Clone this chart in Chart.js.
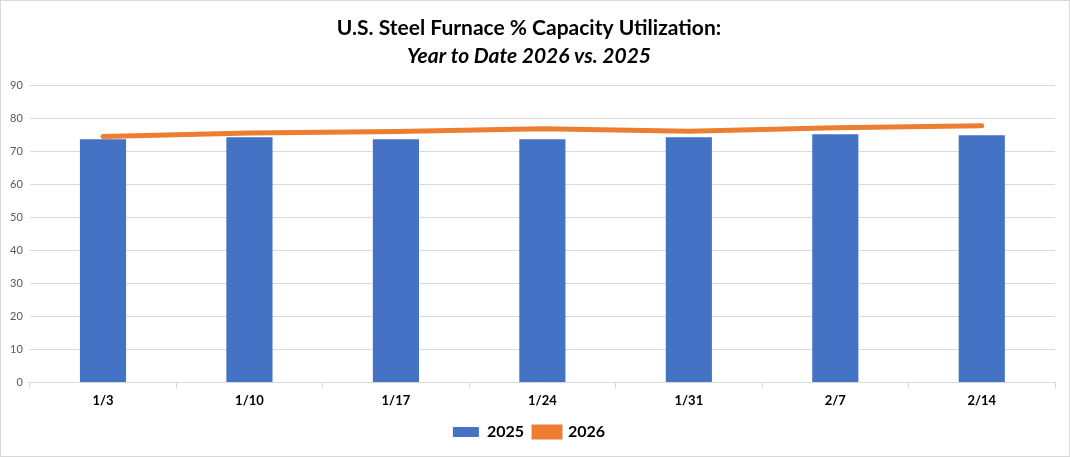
<!DOCTYPE html>
<html>
<head>
<meta charset="utf-8">
<script src="https://cdn.jsdelivr.net/npm/chart.js@4"></script>
<style>
  html, body { margin: 0; padding: 0; background: #fff; }
  #wrap { width: 1068px; height: 455px; border: 1px solid #d9d9d9; position: relative; }
</style>
</head>
<body>
<div id="wrap"><canvas id="grafica"></canvas></div>
<script>
  // Datos
  const semanas = ['1/3', '1/10', '1/17', '1/24', '1/31', '2/7', '2/14'];
  const valores2025 = [73.7, 74.3, 73.7, 73.7, 74.3, 75.2, 74.9];
  const valores2026 = [74.5, 75.6, 76.0, 76.9, 76.1, 77.2, 77.8];
  const ticksY = [0, 10, 20, 30, 40, 50, 60, 70, 80, 90];

  const ctx = document.getElementById('grafica').getContext('2d');

  const chart = new Chart(ctx, {
    type: 'bar',
    data: {
      labels: semanas,
      datasets: [
        {
          type: 'line',
          label: '2026',
          data: valores2026,
          borderColor: '#ED7D31',
          backgroundColor: '#ED7D31',
          borderWidth: 5,
          borderCapStyle: 'round',
          pointRadius: 0,
          tension: 0,
          order: 0
        },
        {
          label: '2025',
          data: valores2025,
          backgroundColor: '#4472C4',
          barPercentage: 0.315,
          categoryPercentage: 1,
          order: 1
        }
      ]
    },
    options: {
      responsive: true,
      maintainAspectRatio: false,
      animation: false,
      layout: { padding: { left: 2, right: 14, top: 9, bottom: 6 } },
      plugins: {
        title: {
          display: true,
          text: 'U.S. Steel Furnace % Capacity Utilization:',
          color: '#000',
          font: { family: 'Lato', size: 21, weight: 'bold' },
          padding: { top: 6, bottom: 2 }
        },
        subtitle: {
          display: true,
          text: 'Year to Date 2026 vs. 2025',
          color: '#000',
          font: { family: 'Lato', size: 21, weight: 'bold', style: 'italic' },
          padding: { bottom: 17 }
        },
        legend: {
          position: 'bottom',
          reverse: true,
          labels: {
            color: '#000',
            boxWidth: 26,
            boxHeight: 10,
            font: { family: 'Lato', size: 16, weight: 'bold' }
          }
        },
        tooltip: { enabled: false }
      },
      scales: {
        x: {
          grid: { offset: true, drawOnChartArea: false, color: '#d9d9d9', tickLength: 6 },
          border: { color: '#d9d9d9' },
          ticks: { color: '#000', font: { family: 'Lato', size: 13, weight: 'bold' }, padding: 5 }
        },
        y: {
          min: 0,
          max: 90,
          afterBuildTicks: axis => { axis.ticks = ticksY.map(v => ({ value: v })); },
          grid: { color: '#d9d9d9', drawTicks: false },
          border: { display: false },
          ticks: { color: '#595959', font: { family: 'Lato', size: 11 }, padding: 7 }
        }
      }
    }
  });
</script>
</body>
</html>
